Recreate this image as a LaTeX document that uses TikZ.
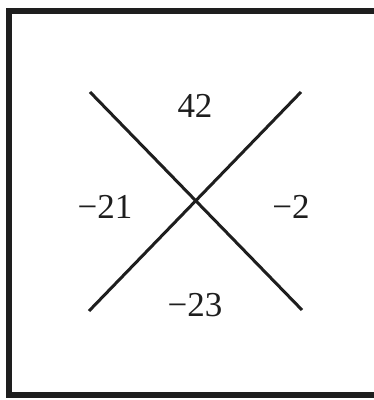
\documentclass[tikz,border=0pt]{standalone}
\usepackage{fontspec}
\setmainfont{Liberation Serif}
\usetikzlibrary{positioning}
\definecolor{CrossInk}{HTML}{1E1E1E}
\tikzset{
  every node/.style={font=\fontsize{35}{40}\selectfont, text=CrossInk},
  frame/.style={draw=CrossInk, line width=6pt},
  stroke/.style={draw=CrossInk, line width=3pt},
}
\begin{document}
\begin{tikzpicture}[x=1pt,y=1pt]
  \useasboundingbox (0,0) rectangle (374,400);
  % Frame (right side runs off the page)
  \draw[frame] (9,5) rectangle (378,389);
  % Cross
  \coordinate (tl) at (90,308);
  \coordinate (br) at (302,90);
  \coordinate (tr) at (301,308);
  \coordinate (bl) at (89,89);
  \draw[stroke] (tl) -- (br);
  \draw[stroke] (tr) -- (bl);
  % Values in the four sectors
  \node (top) at (195,294) {42};
  \node (left) at (105,193) {−21};
  \node (right) at (291,193) {−2};
  \node (bottom) at (195,95) {−23};
\end{tikzpicture}
\end{document}
